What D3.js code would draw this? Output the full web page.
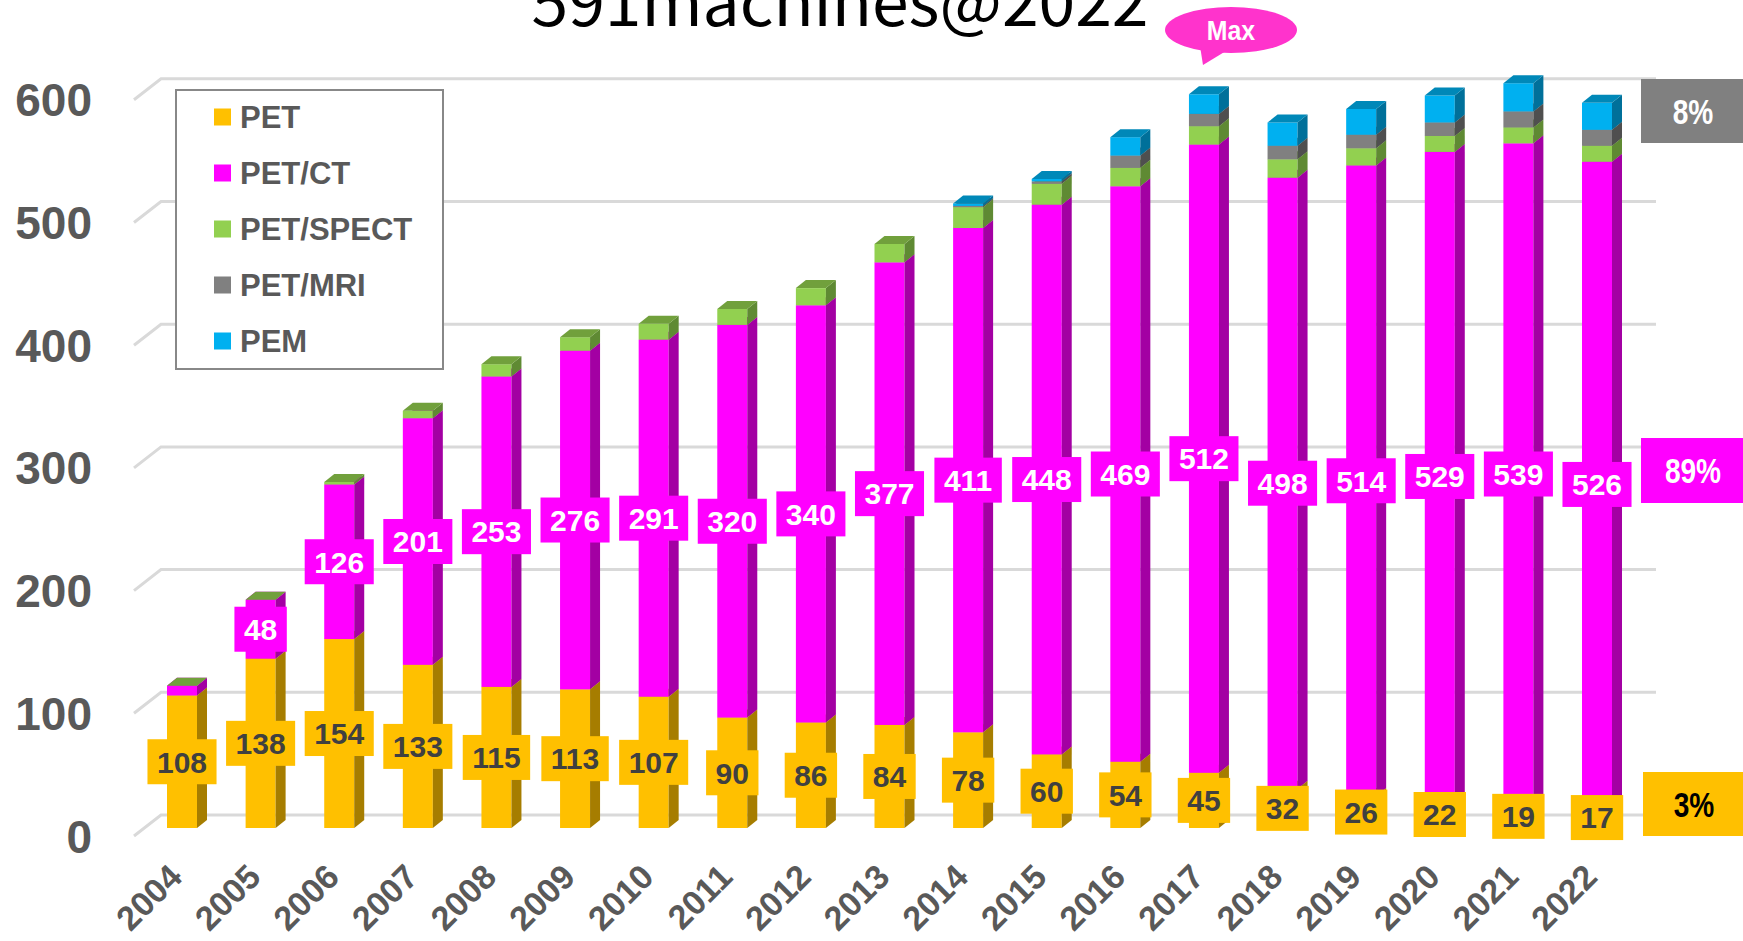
<!DOCTYPE html>
<html><head><meta charset="utf-8">
<script src="https://cdn.jsdelivr.net/npm/d3@7"></script>
<style>body{margin:0;background:#fff}svg{display:block}</style>
</head><body>
<svg id="c" width="1743" height="941"></svg>
<script>
const years = [2004,2005,2006,2007,2008,2009,2010,2011,2012,2013,2014,2015,2016,2017,2018,2019,2020,2021,2022];
const pet      = [108,138,154,133,115,113,107,90,86,84,78,60,54,45,32,26,22,19,17];
const petct    = [8,48,126,201,253,276,291,320,340,377,411,448,469,512,498,514,529,539,526];
const petspect = [0,0,2,6,10,11,13,13,14,15,17,17,15,15,15,14,13,13,13];
const petmri   = [null,null,null,null,null,null,null,null,null,null,1,2,10,10,11,11,11,13,13];
const pem      = [null,null,null,null,null,null,null,null,null,null,2,2,15,16,19,21,22,23,22];
const seriesNames = ["PET","PET/CT","PET/SPECT","PET/MRI","PEM"];
const yTicks = [0,100,200,300,400,500,600];
const shareLabels = ["8%","89%","3%"];
const titleText = "591machines@2022";
const maxText = "Max";

const seriesData = [pet, petct, petspect, petmri, pem];
const colors = ["#FFC000","#FF00FF","#92D050","#808080","#00B0F0"];
const sideColors = ["#A67D00","#A300A3","#5F8A33","#4F4F4F","#00709A"];
const topColors = ["#C99A00","#C800C8","#71A03C","#666666","#0088B8"];

const svg = d3.select("#c");
const font = "'Liberation Sans', Arial, sans-serif";
const grey = "#595959";

const x = d3.scalePoint().domain(years).range([182, 1597]);
const yBar = d3.scaleLinear().domain([0,600]).range([828, 91.8]);
const yFront = d3.scaleLinear().domain([0,600]).range([836, 99.8]);
const yBack = d3.scaleLinear().domain([0,600]).range([815, 78.8]);

// title
svg.append("text").attr("x", 840).attr("y", 26).attr("text-anchor","middle")
  .attr("font-family","'Noto Sans CJK JP','Noto Sans',sans-serif").attr("font-size",64)
  .attr("textLength",617).attr("lengthAdjust","spacingAndGlyphs")
  .attr("fill","#000").text(titleText);

// gridlines
const grid = svg.append("g");
yTicks.forEach(t => {
  grid.append("path")
    .attr("d", `M134,${yBack(t)+21} L161,${yBack(t)} L1656,${yBack(t)}`)
    .attr("fill","none").attr("stroke","#D9D9D9").attr("stroke-width",3);
});

// y axis labels
svg.append("g").selectAll("text").data(yTicks).join("text")
  .attr("x", 92).attr("y", d => yFront(d)).attr("dy","0.36em")
  .attr("text-anchor","end").attr("font-family",font).attr("font-weight","bold")
  .attr("font-size",46).attr("fill",grey).text(d => d);

// bars
const bw = 30, dx = 10, dy = 8;
const bars = svg.append("g");
years.forEach((yr, i) => {
  const cx = x(yr);
  const xl = cx - bw/2, xr = cx + bw/2;
  let base = 0;
  seriesData.forEach((arr, s) => {
    const v = arr[i];
    if (v === null) return;
    const y0 = yBar(base), y1 = yBar(base + v);
    bars.append("rect").attr("x", xl).attr("y", y1).attr("width", bw).attr("height", Math.max(0, y0 - y1))
      .attr("fill", colors[s]);
    bars.append("path").attr("d", `M${xr},${y0} L${xr+dx},${y0-dy} L${xr+dx},${y1-dy} L${xr},${y1} Z`)
      .attr("fill", sideColors[s]);
    bars.append("path").attr("d", `M${xl},${y1} L${xr},${y1} L${xr+dx},${y1-dy} L${xl+dx},${y1-dy} Z`)
      .attr("fill", topColors[s]);
    base += v;
  });
});

// value labels
const labels = svg.append("g");
function addLabel(cx, cy, txt, fill, color) {
  const g = labels.append("g");
  const r = g.append("rect").attr("fill", fill);
  const t = g.append("text").attr("x", cx).attr("y", cy).attr("dy","0.36em")
    .attr("text-anchor","middle").attr("font-family",font).attr("font-weight","bold")
    .attr("font-size",30).attr("fill",color).text(txt);
  const w = t.node().getComputedTextLength() + 19;
  r.attr("x", cx - w/2).attr("y", cy - 22.5).attr("width", w).attr("height", 45);
}
years.forEach((yr, i) => {
  addLabel(x(yr), yBar(pet[i]/2), pet[i], "#FFC000", "#404040");
  if (petct[i] >= 20) addLabel(x(yr), yBar(pet[i] + petct[i]/2), petct[i], "#FF00FF", "#FFFFFF");
});

// legend
const lg = svg.append("g");
lg.append("rect").attr("x",176).attr("y",90).attr("width",267).attr("height",279)
  .attr("fill","#fff").attr("stroke","#888").attr("stroke-width",2);
seriesNames.forEach((n, i) => {
  const cy = 117 + i*56;
  lg.append("rect").attr("x",214).attr("y",cy-8.5).attr("width",17).attr("height",17).attr("fill",colors[i]);
  lg.append("text").attr("x",240).attr("y",cy).attr("dy","0.36em")
    .attr("font-family",font).attr("font-weight","bold").attr("font-size",31)
    .attr("fill",grey).text(n);
});

// x axis labels
svg.append("g").selectAll("text").data(years).join("text")
  .attr("transform", d => `translate(${x(d)+2},${879}) rotate(-45)`)
  .attr("text-anchor","end").attr("font-family",font).attr("font-weight","bold")
  .attr("font-size",34).attr("fill",grey).text(d => d);

// share boxes
const shares = [
  {t: shareLabels[0], y0: 79, y1: 143, fill: "#808080", color: "#FFFFFF", x0: 1641},
  {t: shareLabels[1], y0: 438, y1: 503, fill: "#FF00FF", color: "#FFFFFF", x0: 1641},
  {t: shareLabels[2], y0: 772, y1: 836, fill: "#FFC000", color: "#000000", x0: 1643}
];
shares.forEach(s => {
  svg.append("rect").attr("x", s.x0).attr("y", s.y0).attr("width", 1743 - s.x0).attr("height", s.y1 - s.y0).attr("fill", s.fill);
  const cx = (s.x0 + 1743)/2 + 1, cy = (s.y0 + s.y1)/2;
  svg.append("text").attr("transform", `translate(${cx},${cy}) scale(0.78,1)`).attr("dy","0.36em")
    .attr("text-anchor","middle").attr("font-family",font).attr("font-weight","bold")
    .attr("font-size",36).attr("fill", s.color).text(s.t);
});

// Max bubble
svg.append("path").attr("d","M1200,46 L1203,65 L1226,51 Z").attr("fill","#FF33CC");
svg.append("ellipse").attr("cx",1231).attr("cy",30).attr("rx",66).attr("ry",23).attr("fill","#FF33CC");
svg.append("text").attr("transform","translate(1231,40) scale(0.92,1)").attr("text-anchor","middle")
  .attr("font-family",font).attr("font-weight","bold").attr("font-size",27).attr("fill","#fff").text(maxText);
</script>
</body></html>
